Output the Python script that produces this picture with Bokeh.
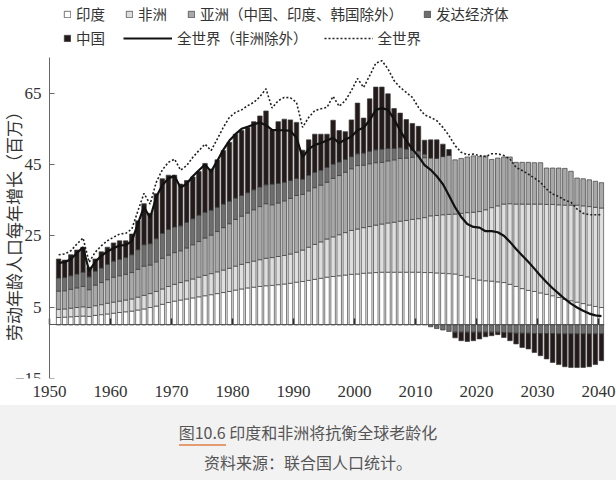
import numpy as np
from math import pi
from bokeh.plotting import figure
from bokeh.models import Legend, Label, FixedTicker, Div, LinearAxis
from bokeh.layouts import column
from bokeh.embed import file_html
from bokeh.resources import INLINE

years = list(range(1951, 2041))

india = [2.1, 2.2, 2.3, 2.4, 2.5, 2.4, 2.7, 2.9, 3.1, 3.3,
         3.5, 3.7, 3.9, 4.2, 4.5, 4.9, 5.3, 5.8, 6.3, 6.7,
         7.0, 7.3, 7.6, 7.9, 8.2, 8.5, 8.8, 9.1, 9.4, 9.8,
         10.1, 10.4, 10.6, 10.8, 11.0, 11.1, 11.3, 11.5, 11.7, 12.0,
         12.2, 12.5, 12.8, 13.1, 13.4, 13.6, 13.8, 14.0, 14.2, 14.3,
         14.5, 14.6, 14.7, 14.8, 14.8, 14.8, 14.8, 14.8, 14.8, 14.8,
         14.7, 14.7, 14.6, 14.5, 14.4, 14.3, 13.9, 13.5, 13.0, 12.6,
         12.4, 12.3, 12.1, 11.9, 11.4, 10.8, 10.2, 9.7, 9.4, 9.0,
         8.6, 8.2, 7.7, 7.2, 6.8, 6.4, 6.0, 5.6, 5.2, 4.9]

africa = [2.3, 2.3, 2.4, 2.5, 2.6, 2.5, 2.7, 2.8, 3.0, 3.1,
          3.2, 3.3, 3.4, 3.6, 3.8, 3.9, 4.1, 4.3, 4.5, 4.7,
          4.9, 5.1, 5.3, 5.5, 5.7, 5.9, 6.1, 6.3, 6.5, 6.7,
          6.9, 7.1, 7.3, 7.5, 7.7, 7.8, 7.9, 8.0, 8.2, 8.4,
          8.8, 9.3, 9.8, 10.2, 10.7, 11.1, 11.5, 11.9, 12.3, 12.6,
          12.8, 13.0, 13.3, 13.5, 13.8, 14.0, 14.3, 14.5, 14.8, 15.0,
          15.4, 15.9, 16.1, 16.4, 16.6, 16.8, 17.4, 18.0, 18.6, 19.2,
          19.9, 20.6, 21.3, 22.0, 22.6, 23.1, 23.7, 24.2, 24.5, 24.9,
          25.2, 25.6, 26.0, 26.4, 26.8, 27.2, 27.4, 27.6, 27.8, 27.9]

asia_other = [5.1, 5.1, 5.3, 5.5, 5.7, 5.0, 5.8, 6.2, 6.6, 7.0,
              7.1, 7.2, 7.4, 7.8, 8.2, 8.0, 8.3, 8.6, 8.8, 8.9,
              8.9, 9.2, 9.6, 10.0, 10.5, 10.8, 11.3, 11.9, 12.5, 13.1,
              13.5, 13.9, 14.4, 14.9, 15.3, 14.8, 15.0, 15.3, 15.6, 15.9,
              15.6, 15.8, 15.9, 15.9, 15.9, 16.4, 16.6, 16.9, 17.3, 17.8,
              17.5, 17.6, 17.5, 17.3, 17.4, 17.5, 17.6, 17.5, 17.4, 17.4,
              16.8, 16.2, 16.0, 16.3, 16.5, 15.2, 15.4, 15.6, 15.8, 15.4,
              15.1, 13.5, 13.4, 13.2, 13.1, 11.7, 11.7, 11.7, 11.6, 11.6,
              10.2, 10.2, 10.3, 10.3, 9.5, 7.6, 7.6, 7.5, 7.3, 7.1]

developed = [3.7, 3.7, 3.8, 3.9, 4.0, 3.6, 3.9, 4.1, 4.3, 4.5,
             4.6, 4.7, 5.0, 5.5, 6.0, 6.0, 6.5, 7.0, 7.2, 7.2,
             7.0, 7.2, 7.3, 7.4, 7.2, 7.0, 6.8, 6.6, 6.3, 6.0,
             5.8, 5.7, 5.6, 5.5, 5.3, 5.8, 5.5, 5.2, 5.0, 4.8,
             4.3, 4.4, 4.3, 4.2, 4.2, 4.0, 3.8, 3.6, 3.4, 3.3,
             3.4, 3.5, 3.6, 3.7, 3.5, 3.2, 3.0, 2.5, 2.0, 1.6,
             1.0, -0.5, -1.0, -1.4, -1.8, -2.0, -2.0, -2.0, -2.0, -2.0,
             -2.0, -2.0, -2.0, -2.1, -2.2, -2.3, -2.3, -2.3, -2.4, -2.4,
             -2.4, -2.4, -2.5, -2.5, -2.5, -2.5, -2.5, -2.5, -2.5, -2.5]

china = [5.3, 4.9, 5.9, 6.7, 7.0, 2.7, 3.4, 4.5, 4.8, 5.1,
         5.2, 4.7, 5.8, 8.1, 11.5, 8.5, 12.6, 15.3, 15.2, 14.5,
         11.7, 11.7, 11.7, 12.2, 13.7, 11.5, 13.3, 15.0, 16.5, 17.9,
         18.2, 18.3, 19.1, 19.9, 20.7, 15.3, 17.3, 17.7, 17.0, 15.7,
         8.1, 9.9, 10.7, 10.1, 9.3, 12.3, 8.8, 7.8, 10.3, 14.2,
         9.8, 14.7, 17.6, 17.4, 15.3, 11.2, 9.7, 8.3, 7.5, 6.9,
         3.9, 5.1, 5.2, 3.5, 1.7, -1.6, -2.4, -2.6, -2.4, -1.9,
         -1.3, -1.0, -0.7, -1.4, -2.2, -3.0, -4.0, -4.4, -5.3, -6.2,
         -7.1, -8.1, -8.6, -9.2, -9.4, -9.4, -9.4, -9.2, -8.6, -7.5]

world = [19.7, 19.9, 20.8, 22.7, 24.4, 17.6, 20.4, 22.2, 23.6, 24.6,
         25.5, 25.7, 26.9, 32.0, 36.9, 33.9, 40.0, 43.5, 45.6, 46.5,
         43.4, 44.7, 47.0, 48.9, 50.7, 48.9, 52.1, 55.4, 58.2, 59.6,
         60.3, 61.5, 62.4, 64.0, 66.2, 60.8, 62.9, 63.8, 63.7, 62.4,
         55.4, 58.2, 60.1, 60.6, 61.0, 64.1, 61.3, 62.9, 65.7, 69.1,
         66.6, 69.9, 73.4, 74.1, 71.8, 68.5, 66.6, 65.2, 63.8, 61.0,
         58.9, 58.2, 57.3, 55.4, 53.1, 50.3, 48.4, 47.7, 47.9, 47.5,
         47.2, 48.0, 48.0, 47.5, 46.5, 44.2, 43.3, 42.3, 41.2, 40.0,
         38.1, 36.7, 36.0, 35.0, 34.4, 32.5, 31.3, 30.9, 30.9, 30.9]

world_ex_africa = [17.4, 17.6, 18.4, 20.2, 21.8, 15.1, 17.7, 19.4, 20.6, 21.5,
                   22.3, 22.4, 23.5, 28.4, 33.1, 30.0, 35.9, 39.2, 41.1, 41.8,
                   38.5, 39.6, 41.7, 43.4, 45.0, 43.0, 46.0, 49.1, 51.7, 53.5,
                   55.0, 55.6, 56.2, 56.8, 56.0, 54.7, 54.6, 54.6, 54.4, 52.5,
                   47.0, 49.3, 50.5, 51.0, 51.7, 52.5, 51.0, 52.0, 52.8, 54.6,
                   55.3, 57.4, 60.3, 60.8, 60.3, 57.7, 54.5, 51.7, 49.3, 47.3,
                   44.8, 43.5, 41.7, 39.5, 36.3, 33.0, 30.3, 28.3, 27.5, 27.3,
                   26.3, 26.3, 26.0, 25.0, 23.3, 21.3, 19.5, 17.7, 15.8, 13.8,
                   12.0, 10.3, 8.8, 7.3, 6.0, 4.9, 4.0, 3.2, 2.7, 2.5]

x_ticks = [1950, 1960, 1970, 1980, 1990, 2000, 2010, 2020, 2030, 2040]
y_ticks = [-15, 5, 25, 45, 65]

names = ["印度", "非洲", "亚洲（中国、印度、韩国除外）", "发达经济体", "中国"]
line_names = ["全世界（非洲除外）", "全世界"]
colors = ["#ffffff", "#dedede", "#a8a8a8", "#6e6e6e", "#231a19"]
y_title = "劳动年龄人口每年增长（百万）"

# ---- stacking (positives upward, negatives downward) ----
x = np.array(years) + 0.5
ind = np.array(india)
afr = np.array(africa)
asi = np.array(asia_other)
dev = np.array(developed)
chn = np.array(china)

asia_top = ind + afr + asi
dev_b = np.where(dev >= 0, asia_top, 0.0)
dev_t = dev_b + dev
chn_b = np.where(chn >= 0, asia_top + np.maximum(dev, 0), np.minimum(dev, 0))
chn_t = chn_b + chn

bottoms = [np.zeros_like(ind), ind, ind + afr, dev_b, chn_b]
tops = [ind, ind + afr, asia_top, dev_t, chn_t]

SERIF = "Liberation Serif"
CJK = "Noto Sans CJK SC"
OUT = "#3c3c3c"
AX = "#555555"

x_start, x_end = 1941.97, 2041
p = figure(frame_width=604, frame_height=378,
           x_range=(x_start, x_end), y_range=(-15, 90.97),
           output_backend="svg", toolbar_location=None,
           min_border_left=0, min_border_right=12,
           min_border_top=0, min_border_bottom=27, margin=0)
p.outline_line_color = None
p.xgrid.visible = False
p.ygrid.visible = False
p.background_fill_color = "white"
p.border_fill_color = "white"

bar_renderers = []
for name, c, b, t in zip(names, colors, bottoms, tops):
    r = p.vbar(x=x, width=0.74, bottom=b, top=t, fill_color=c,
               line_color=OUT, line_width=0.7)
    bar_renderers.append(r)

r_exa = p.line(x, world_ex_africa, line_color="#111111", line_width=2.2)
r_all = p.line(x, world, line_color="#222222", line_width=1.6, line_dash="2 2")

# ---- axes ----
xa = p.xaxis[0]
xa.ticker = FixedTicker(ticks=x_ticks)
xa.axis_line_color = None
xa.major_tick_in = 0
xa.major_tick_out = 0
xa.minor_tick_line_color = None
xa.major_label_standoff = 7
xa.major_label_text_font = SERIF
xa.major_label_text_font_size = "17px"
xa.major_label_text_color = "#333333"

x0axis = LinearAxis(fixed_location=0, ticker=FixedTicker(ticks=x_ticks),
                    bounds=(1950, x_end), axis_line_color=AX, axis_line_width=1,
                    major_tick_line_color="#333333", major_tick_line_width=1.5,
                    major_tick_in=6, major_tick_out=0,
                    minor_tick_line_color=None,
                    major_label_overrides={t: "" for t in x_ticks})
p.add_layout(x0axis, "below")

ya = p.yaxis[0]
ya.fixed_location = 1950
ya.ticker = FixedTicker(ticks=y_ticks)
ya.bounds = (-15, 75)
ya.axis_line_color = "#666666"
ya.major_tick_line_color = "#666666"
ya.major_tick_in = 5
ya.major_tick_out = 0
ya.minor_tick_line_color = None
ya.major_label_standoff = 8
ya.major_label_overrides = {-15: "−15"}
ya.major_label_text_font = SERIF
ya.major_label_text_font_size = "17px"
ya.major_label_text_color = "#333333"

p.add_layout(Label(x=12.5, y=156.5, x_units="screen", y_units="screen",
                   text=y_title, angle=pi / 2,
                   text_align="center", text_baseline="middle",
                   text_font=CJK, text_font_size="17px", text_color="#333333"))

# ---- legends ----
def make_legend(items, loc, gw, sp):
    return Legend(items=items, location=loc, orientation="horizontal",
                  padding=0, margin=0, spacing=sp, label_standoff=5,
                  glyph_width=gw, glyph_height=8,
                  border_line_color=None, background_fill_alpha=0,
                  label_text_font=CJK, label_text_font_size="14.5px",
                  label_text_color="#333333")

leg1 = make_legend([(names[i], [bar_renderers[i]]) for i in range(4)], (63, 354), 8, 20)
leg2 = make_legend([(names[4], [bar_renderers[4]])], (63, 330), 8, 20)
leg3 = make_legend([(line_names[0], [r_exa]), (line_names[1], [r_all])], (123, 330), 49, 16)
for lg in (leg1, leg2, leg3):
    p.add_layout(lg, "center")

caption = Div(width=616, height=75, margin=0, text=(
    "<div style=\"width:616px;height:75px;background:#f2f2f2;"
    "font-family:'Noto Sans CJK SC';color:#555;text-align:center;font-size:16px;\">"
    "<div style=\"padding-top:17px;line-height:20px;\">"
    "<span style=\"border-bottom:2px solid #e39b6f;\">图10.6</span> 印度和非洲将抗衡全球老龄化</div>"
    "<div style=\"margin-top:10px;line-height:20px;\">资料来源：联合国人口统计。</div>"
    "</div>"))

layout = column(p, caption, spacing=0, margin=0)
open("out.html", "w").write(file_html(layout, INLINE))
